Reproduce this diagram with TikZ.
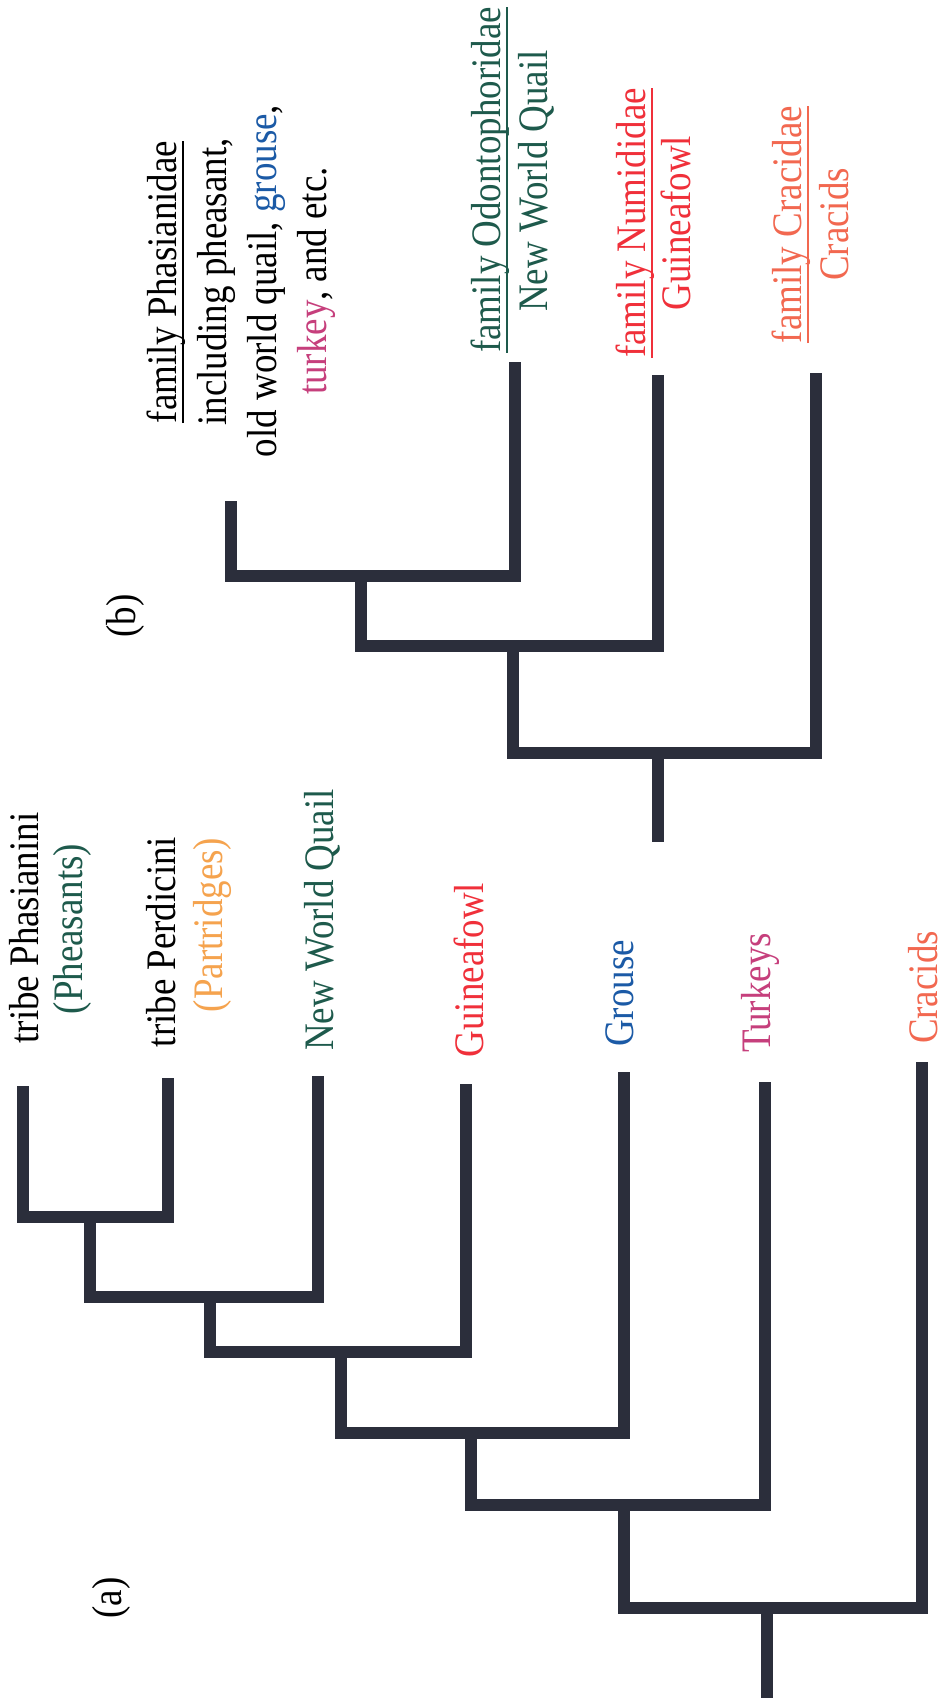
\documentclass[tikz,border=0pt]{standalone}
\usepackage{fontspec}
\setmainfont{Liberation Serif}[FakeStretch=0.88]
\definecolor{treeclr}{HTML}{2B2E3B}
\definecolor{cgreen}{HTML}{1E5A4C}
\definecolor{corange}{HTML}{F5A34E}
\definecolor{cred}{HTML}{F0303A}
\definecolor{cblue}{HTML}{1B5AA6}
\definecolor{cmag}{HTML}{C63F7C}
\definecolor{csalmon}{HTML}{F26850}
% underline sitting just under the descenders
\newcommand\ulabel[1]{\setbox0\hbox{#1}\rlap{\rule[-4pt]{\wd0}{0.9pt}}\box0}
\begin{document}
\begin{tikzpicture}[x=0.5pt,y=-0.5pt,
  lbl/.style={rotate=90, anchor=base, inner sep=0pt, font=\fontsize{21}{24}\selectfont},
  tag/.style={lbl, anchor=center},
  branch/.style={draw=treeclr, line width=6pt, line join=miter, line cap=butt}]
\fill[white] (0,0) rectangle (941,1703);
\useasboundingbox (0,0) rectangle (941,1703);

% ---------------- tree (a) ----------------
\coordinate (a1) at (23,1086);
\coordinate (a2) at (167.5,1078);
\coordinate (a3) at (318,1076);
\coordinate (a4) at (466,1084);
\coordinate (a5) at (624,1072);
\coordinate (a6) at (765,1082);
\coordinate (a7) at (922,1062);
\coordinate (n1) at (90,1217);
\coordinate (n2) at (209.5,1296.5);
\coordinate (n3) at (341,1352);
\coordinate (n4) at (471,1432.5);
\coordinate (n5) at (624,1504.5);
\coordinate (n6) at (767,1607.5);
\coordinate (ar) at (767,1698);

\draw[branch] (a1) |- (n1) -| (a2);
\draw[branch] (n1) |- (n2) -| (a3);
\draw[branch] (n2) |- (n3) -| (a4);
\draw[branch] (n3) |- (n4) -| (a5);
\draw[branch] (n4) |- (n5) -| (a6);
\draw[branch] (n5) |- (n6) -| (a7);
\draw[branch] (n6) -- (ar);

\node[lbl] (la1)  at (39,928)   {tribe Phasianini};
\node[lbl, text=cgreen] (la1b) at (82,929) {(Pheasants)};
\node[lbl] (la2)  at (175,942)  {tribe Perdicini};
\node[lbl, text=corange] (la2b) at (222,925) {(Partridges)};
\node[lbl, text=cgreen] (la3) at (333,920) {New World Quail};
\node[lbl, text=cred] (la4) at (483,970) {Guineafowl};
\node[lbl, text=cblue] (la5) at (633,993.5) {Grouse};
\node[lbl, text=cmag] (la6) at (770,993) {Turkeys};
\node[lbl, text=csalmon] (la7) at (937,987.5) {Cracids};
\node[tag] (tagA) at (111,1598) {(a)};

% ---------------- tree (b) ----------------
\coordinate (b1) at (231,501);
\coordinate (b2) at (515,362);
\coordinate (b3) at (657.5,375);
\coordinate (b4) at (816,373);
\coordinate (m1) at (361,576);
\coordinate (m2) at (512.5,646);
\coordinate (m3) at (657.5,752.5);
\coordinate (br) at (657.5,842);

\draw[branch] (b1) |- (m1) -| (b2);
\draw[branch] (m1) |- (m2) -| (b3);
\draw[branch] (m2) |- (m3) -| (b4);
\draw[branch] (m3) -- (br);

\node[lbl] (tb1) at (176,282) {\ulabel{family Phasianidae}};
\node[lbl] (tb2) at (226,282) {including pheasant,};
\node[lbl] (tb3) at (276,281) {old world quail, \textcolor{cblue}{grouse},};
\node[lbl] (tb4) at (326,281) {\textcolor{cmag}{turkey}, and etc.};
\node[lbl, text=cgreen] (to1) at (500,180) {\ulabel{family Odontophoridae}};
\node[lbl, text=cgreen] (to2) at (547,181) {New World Quail};
\node[lbl, text=cred] (tn1) at (645,223) {\ulabel{family Numididae}};
\node[lbl, text=cred] (tn2) at (690,223) {Guineafowl};
\node[lbl, text=csalmon] (tc1) at (801,224.5) {\ulabel{family Cracidae}};
\node[lbl, text=csalmon] (tc2) at (848,224.5) {Cracids};
\node[tag] (tagB) at (125,616) {(b)};
\end{tikzpicture}
\end{document}
